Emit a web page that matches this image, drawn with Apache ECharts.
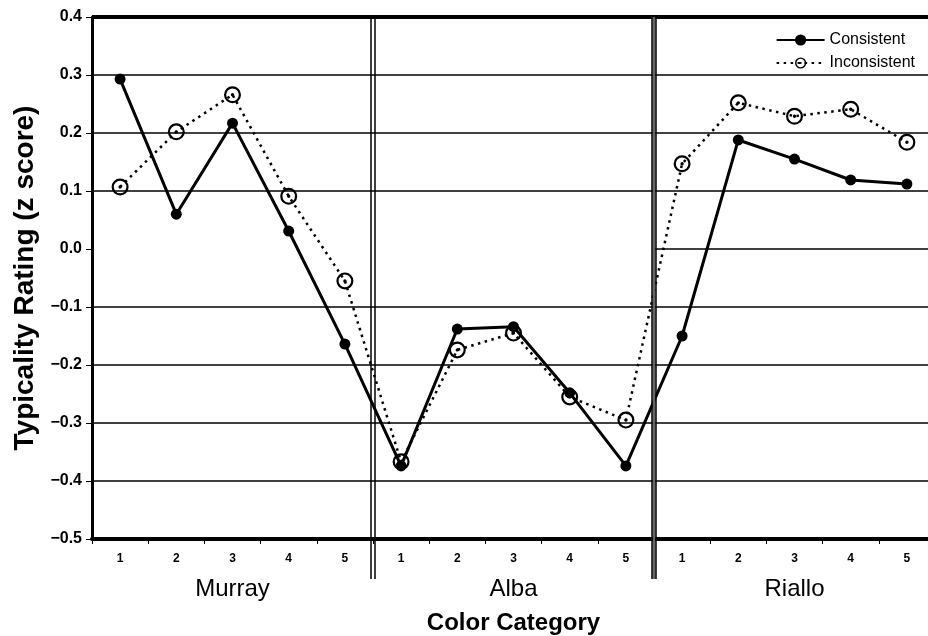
<!DOCTYPE html>
<html><head><meta charset="utf-8">
<script src="https://cdn.jsdelivr.net/npm/echarts@6/dist/echarts.min.js"></script>
<style>html,body{margin:0;padding:0;background:#fff}#c{width:928px;height:636px}</style>
</head><body><div id="c"></div>
<script>
const groups = ['Murray', 'Alba', 'Riallo'];
const levels = ['1', '2', '3', '4', '5'];
const seriesNames = ['Consistent', 'Inconsistent'];
const consistent = [0.293, 0.060, 0.217, 0.031, -0.164,
                    -0.374, -0.138, -0.134, -0.248, -0.374,
                    -0.150, 0.188, 0.155, 0.119, 0.112];
const inconsistent = [0.107, 0.202, 0.266, 0.091, -0.055,
                      -0.367, -0.174, -0.145, -0.255, -0.295,
                      0.147, 0.252, 0.229, 0.241, 0.184];
const yMin = -0.5, yMax = 0.4, yStep = 0.1;
const gridValues = [-0.4, -0.3, -0.2, -0.1, 0.1, 0.2, 0.3];

const FONT = "'Liberation Sans', Arial, Helvetica, sans-serif";
const cats = groups.flatMap(g => levels.map(l => g + '|' + l));
const nCat = cats.length;
const nPer = levels.length;

const ringPath = 'path://M0,-10A10,10 0 1,1 0,10A10,10 0 1,1 0,-10Z' +
  'M0,-7.4A7.4,7.4 0 1,0 0,7.4A7.4,7.4 0 1,0 0,-7.4Z' +
  'M0,-2A2,2 0 1,1 0,2A2,2 0 1,1 0,-2Z';

const gridLineData = gridValues.map(v => ({ yAxis: v, lineStyle: { width: 1.5 } }));
gridLineData.push({ yAxis: yMax, lineStyle: { width: 4 } });
// zero line only drawn over the last group
gridLineData.push([{ xAxis: 2 * nPer + 0.5, yAxis: 0 }, { xAxis: nCat + 0.5, yAxis: 0, lineStyle: { width: 1.5 } }]);

const chart = echarts.init(document.getElementById('c'), null, { renderer: 'canvas' });
chart.setOption({
  animation: false,
  backgroundColor: '#fff',
  textStyle: { fontFamily: FONT, color: '#000' },
  grid: { left: 92, right: -7, top: 17, bottom: 97, containLabel: false, outerBoundsMode: 'none' },
  legend: {
    data: seriesNames,
    orient: 'vertical',
    right: 8,
    top: 27,
    itemWidth: 48,
    itemHeight: 14,
    itemGap: 7,
    textStyle: { fontFamily: FONT, fontSize: 16, color: '#000' }
  },
  xAxis: [
    {
      type: 'category',
      data: cats,
      boundaryGap: true,
      position: 'bottom',
      axisLine: { onZero: false, lineStyle: { color: '#000', width: 4 } },
      axisTick: { show: true, length: 5, lineStyle: { color: '#000', width: 1 } },
      axisLabel: {
        formatter: v => v.split('|')[1],
        fontFamily: FONT, fontSize: 12, fontWeight: 'bold', color: '#000', margin: 14
      },
      name: 'Color Category',
      nameLocation: 'middle',
      nameGap: 72,
      nameTextStyle: { fontFamily: FONT, fontSize: 24, fontWeight: 'bold', color: '#000' },
      splitLine: { show: false }
    },
    {
      type: 'category',
      data: groups,
      position: 'bottom',
      offset: 30,
      axisLine: { show: false, onZero: false },
      axisTick: { show: false },
      axisLabel: { fontFamily: FONT, fontSize: 24, color: '#000', margin: 8 },
      splitLine: { show: false }
    },
    {
      type: 'value', min: 0.5, max: nCat + 0.5, show: false,
      axisLine: { onZero: false },
      splitLine: { show: false }
    }
  ],
  yAxis: {
    type: 'value',
    min: yMin, max: yMax, interval: yStep,
    axisLine: { show: true, onZero: false, lineStyle: { color: '#000', width: 3 } },
    axisTick: { show: true, length: 6, lineStyle: { color: '#000', width: 1 } },
    axisLabel: {
      formatter: v => { const r = Math.round(v * 10); return (r < 0 ? '\u2212' : '') + (Math.abs(r) / 10).toFixed(1); },
      fontFamily: FONT, fontSize: 16, fontWeight: 'bold', color: '#000', margin: 10
    },
    splitLine: { show: false },
    name: 'Typicality Rating (z score)',
    nameLocation: 'middle',
    nameRotate: 90,
    nameGap: 51,
    nameTextStyle: { fontFamily: FONT, fontSize: 28, fontWeight: 'bold', color: '#000' }
  },
  series: [
    {
      type: 'line', name: '__grid', xAxisIndex: 2, yAxisIndex: 0,
      data: [[0.5, yMin]], showSymbol: false, symbol: 'none', silent: true,
      lineStyle: { opacity: 0 },
      markLine: {
        silent: true, symbol: 'none', label: { show: false },
        lineStyle: { color: '#000', type: 'solid', width: 1.5 },
        data: gridLineData
      },
      z: 1
    },
    {
      type: 'line', name: seriesNames[1], xAxisIndex: 0,
      data: inconsistent,
      symbol: ringPath, symbolSize: 17,
      itemStyle: { color: '#000' },
      lineStyle: { color: '#000', width: 2.5, type: [2.5, 4.5] },
      z: 3
    },
    {
      type: 'line', name: seriesNames[0], xAxisIndex: 0,
      data: consistent,
      symbol: 'circle', symbolSize: 11,
      itemStyle: { color: '#000' },
      lineStyle: { color: '#000', width: 3, type: 'solid' },
      z: 4
    }
  ]
});

// group separators (double lines) placed via the axis scales
const topY = chart.convertToPixel({ yAxisIndex: 0 }, yMax);
const botY = chart.convertToPixel({ yAxisIndex: 0 }, yMin);
const gfx = [];
for (let g = 1; g < groups.length; g++) {
  const x = chart.convertToPixel({ xAxisIndex: 2 }, g * nPer + 0.5);
  if (g === 2) {
    gfx.push({
      type: 'line', silent: true, z: 10,
      shape: { x1: x, y1: topY, x2: x, y2: botY + 40 },
      style: { stroke: '#666', lineWidth: 3 }
    });
  }
  [-2, 2].forEach(d => {
    gfx.push({
      type: 'line', silent: true, z: 10,
      shape: { x1: x + d, y1: topY, x2: x + d, y2: botY + 40 },
      style: { stroke: '#000', lineWidth: 1.5 }
    });
  });
}
chart.setOption({ graphic: gfx });
</script>
</body></html>
